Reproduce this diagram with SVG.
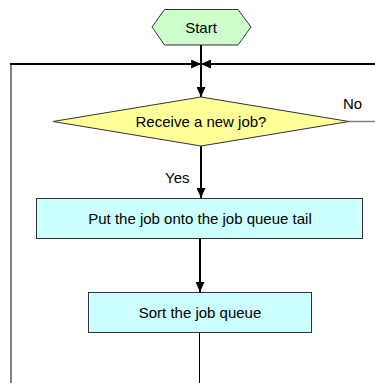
<svg xmlns="http://www.w3.org/2000/svg" width="375" height="383" viewBox="0 0 375 383">
  <defs>
    <marker id="arrow" markerWidth="10" markerHeight="9" refX="10" refY="4.5" orient="auto" markerUnits="userSpaceOnUse">
      <path d="M0,0 L10,4.5 L0,9 Z" fill="#000"/>
    </marker>
    <style>
      .label { font-family: "Liberation Sans", Arial, sans-serif; font-size: 15px; fill: #000; }
      .mid { text-anchor: middle; }
      .box { fill: #ccffff; stroke: #333; stroke-width: 1; }
      .thick { stroke: #000; stroke-width: 2; fill: none; }
      .thin { stroke: #000; stroke-width: 1; fill: none; }
      .loop { stroke: #808080; stroke-width: 2; fill: none; }
    </style>
  </defs>
  <rect width="375" height="383" fill="#fff"/>

  <g id="connectors">
    <!-- loop-back rail on the left and its top return line -->
    <line class="loop" x1="11" y1="64" x2="11" y2="383"/>
    <line class="thick" x1="10" y1="64" x2="201" y2="64" marker-end="url(#arrow)"/>
    <line class="thick" x1="375" y1="64" x2="201" y2="64" marker-end="url(#arrow)"/>
    <!-- Start to decision -->
    <line class="thick" x1="201" y1="45" x2="201" y2="97" marker-end="url(#arrow)"/>
    <!-- No branch -->
    <line x1="349" y1="121.5" x2="375" y2="121.5" stroke="#808080" stroke-width="1.5"/>
    <!-- Yes branch -->
    <line class="thick" x1="201" y1="146" x2="201" y2="198" marker-end="url(#arrow)"/>
    <!-- queue tail to sort -->
    <line class="thick" x1="200" y1="239" x2="200" y2="292" marker-end="url(#arrow)"/>
    <!-- sort onward -->
    <line class="thin" x1="199.5" y1="333" x2="199.5" y2="383"/>
    <text class="label" x="343" y="109">No</text>
    <text class="label" x="165" y="182.5">Yes</text>
  </g>

  <g id="start">
    <polygon points="152,27 164.5,9.5 238,9.5 251,27 238,45 164.5,45" fill="#ccffcc" stroke="#333" stroke-width="1"/>
    <text class="label mid" x="201" y="33">Start</text>
  </g>

  <g id="receive-job">
    <polygon points="201,97 349,121.5 201,146 53,121.5" fill="#ffff99" stroke="#333" stroke-width="1"/>
    <text class="label mid" x="201" y="127">Receive a new job?</text>
  </g>

  <g id="enqueue">
    <rect class="box" x="36.5" y="198.5" width="326" height="40"/>
    <text class="label mid" x="200" y="224">Put the job onto the job queue tail</text>
  </g>

  <g id="sort-queue">
    <rect class="box" x="88.5" y="292.5" width="223" height="40"/>
    <text class="label mid" x="200" y="318">Sort the job queue</text>
  </g>
</svg>
